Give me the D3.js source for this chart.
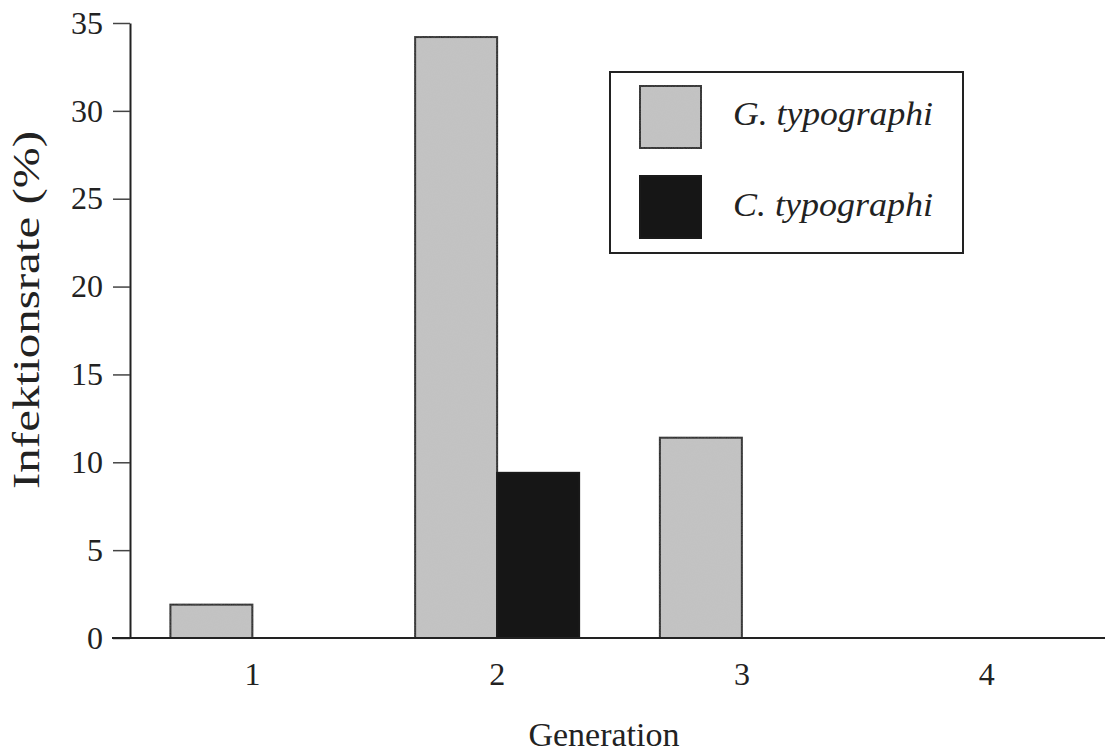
<!DOCTYPE html>
<html>
<head>
<meta charset="utf-8">
<script src="https://cdn.jsdelivr.net/npm/d3@7"></script>
<style>
  body { margin: 0; background: #fff; }
  text { font-family: "Liberation Serif", "DejaVu Serif", serif; fill: #222; }
</style>
</head>
<body>
<svg id="chart" width="1105" height="755"></svg>
<script>
// data
const generations = ["1", "2", "3", "4"];
const seriesNames = ["G. typographi", "C. typographi"];
const gTypographi = [1.9, 34.2, 11.4, 0];
const cTypographi = [0, 9.4, 0, 0];
const yTicks = [0, 5, 10, 15, 20, 25, 30, 35];
const colors = ["#c2c2c2", "#161616"];

const svg = d3.select("#chart");
const margin = {top: 23, right: 0, bottom: 117, left: 130};
const width = 1105;
const height = 755;

// light grain for the bars, like the scanned original
const defs = svg.append("defs");
const grain = defs.append("filter").attr("id", "grain");
grain.append("feTurbulence").attr("type", "fractalNoise").attr("baseFrequency", 0.9)
    .attr("numOctaves", 1).attr("seed", 3).attr("result", "noise");
grain.append("feColorMatrix").attr("in", "noise").attr("type", "matrix")
    .attr("values", "0 0 0 0 0.6  0 0 0 0 0.6  0 0 0 0 0.6  0 0 0 0.12 0").attr("result", "n2");
grain.append("feComposite").attr("in", "n2").attr("in2", "SourceGraphic").attr("operator", "atop");
const grainFor = j => j === 0 ? "url(#grain)" : null;

const x0 = d3.scaleBand()
    .domain(generations)
    .range([margin.left, 1109])
    .padding(0);
const x1 = d3.scaleBand()
    .domain(seriesNames)
    .range([-82, 82])
    .padding(0);
const y = d3.scaleLinear()
    .domain([0, 35])
    .range([height - margin.bottom, margin.top]);

const rows = generations.map((g, i) => ({g, values: [gTypographi[i], cTypographi[i]]}));

// bars
const groups = svg.append("g")
    .selectAll("g")
    .data(rows)
    .join("g")
    .attr("transform", d => `translate(${x0(d.g) + x0.bandwidth() / 2},0)`);
groups.selectAll("rect")
    .data(d => d.values.map((v, j) => ({s: seriesNames[j], v, j})).filter(d => d.v > 0))
    .join("rect")
    .attr("x", d => x1(d.s))
    .attr("y", d => y(d.v))
    .attr("width", x1.bandwidth())
    .attr("height", d => y(0) - y(d.v))
    .attr("fill", d => colors[d.j])
    .attr("stroke", "#1a1a1a")
    .attr("stroke-width", 2)
    .attr("filter", d => grainFor(d.j));

// y axis
const yAxis = svg.append("g")
    .attr("transform", `translate(${margin.left},0)`)
    .call(d3.axisLeft(y).tickValues(yTicks).tickSize(17).tickPadding(10).tickSizeOuter(0));
yAxis.select(".domain").attr("stroke", "#222").attr("stroke-width", 2);
yAxis.selectAll(".tick line").attr("stroke", "#444").attr("stroke-width", 1.5);
yAxis.selectAll(".tick text").attr("font-size", 32).attr("font-family", "Liberation Serif").attr("fill", "#222");

// x axis
const xAxis = svg.append("g")
    .attr("transform", `translate(0,${y(0)})`)
    .call(d3.axisBottom(x0).tickSize(0).tickPadding(24).tickSizeOuter(0));
xAxis.select(".domain").attr("d", `M${margin.left - 18},0H${width}`)
    .attr("stroke", "#222").attr("stroke-width", 2);
xAxis.selectAll(".tick text").attr("font-size", 32).attr("font-family", "Liberation Serif").attr("fill", "#222");

// axis titles
svg.append("text")
    .attr("x", 604)
    .attr("y", 746)
    .attr("text-anchor", "middle")
    .attr("font-size", 34)
    .text("Generation");
svg.append("text")
    .attr("transform", "translate(39,310) rotate(-90)")
    .attr("text-anchor", "middle")
    .attr("font-size", 37)
    .attr("fill", "#2a2a2a")
    .attr("textLength", 358)
    .attr("lengthAdjust", "spacingAndGlyphs")
    .text("Infektionsrate (%)");

// legend
const legend = svg.append("g").attr("transform", "translate(610,72)");
legend.append("rect")
    .attr("width", 353).attr("height", 181)
    .attr("fill", "#fff").attr("stroke", "#222").attr("stroke-width", 2);
const items = legend.selectAll("g.item")
    .data(seriesNames)
    .join("g")
    .attr("class", "item")
    .attr("transform", (d, i) => `translate(30,${14 + i * 90})`);
items.append("rect")
    .attr("width", 61).attr("height", 62)
    .attr("fill", (d, i) => colors[i])
    .attr("stroke", "#1a1a1a").attr("stroke-width", 2)
    .attr("filter", (d, i) => grainFor(i));
items.append("text")
    .attr("x", 93).attr("y", (d, i) => 39 + i)
    .attr("font-size", 34)
    .attr("font-style", "italic")
    .attr("textLength", 200)
    .attr("lengthAdjust", "spacingAndGlyphs")
    .text(d => d);
</script>
</body>
</html>
